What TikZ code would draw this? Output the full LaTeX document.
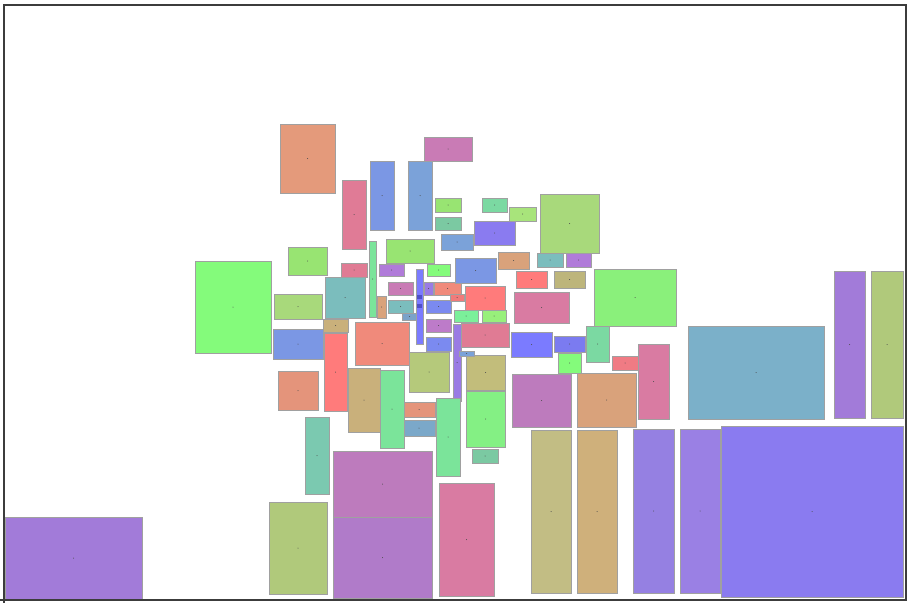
\documentclass[tikz,border=0pt]{standalone}
\usetikzlibrary{calc}
\definecolor{rimgray}{RGB}{160,160,160}
\definecolor{framegray}{RGB}{60,60,60}
\definecolor{darkbar}{RGB}{80,80,200}
\tikzset{
  rbox/.style={draw=rimgray, line width=0.95pt},
  frameline/.style={draw=framegray, line width=1.3pt},
  cdot/.style={fill=black!70}
}
\newcommand{\rb}[5]{%
  \definecolor{rbc}{HTML}{#5}%
  \draw[rbox,fill=rbc] (#1,#2) rectangle (#3,#4);
  \fill[cdot] ({(#1+#3)/2},{(#2+#4)/2}) circle (0.5);
}
\begin{document}
\begin{tikzpicture}[x=1pt,y=-1pt]
\useasboundingbox (0,0) rectangle (912,605);
\fill[white] (0,0) rectangle (912,605);
\rb{280}{124}{335}{193}{E49A7B}
\rb{342}{180}{366}{249}{E07B96}
\rb{370}{161}{394}{230}{7B97E4}
\rb{408}{161}{432}{230}{7BA2D9}
\rb{424}{137}{472}{161}{C97BB5}
\rb{288}{247}{327}{275}{98E472}
\rb{195}{261}{271}{353}{84FB7B}
\rb{341}{263}{367}{277}{E07B94}
\rb{369}{241}{376}{317}{7BE49A}
\rb{386}{239}{434}{263}{98E472}
\rb{379}{264}{404}{276}{B07BD9}
\rb{325}{277}{365}{318}{7BBDBD}
\rb{274}{294}{322}{319}{A8D97B}
\rb{388}{282}{413}{295}{C97BB5}
\rb{377}{296}{386}{318}{D9A27B}
\rb{388}{300}{413}{313}{7BBDBD}
\rb{402}{313}{417}{320}{7BA2C9}
\rb{355}{322}{409}{365}{F08A7B}
\rb{416}{269}{423}{344}{7B7BFF}
\fill[darkbar] (417,295) rectangle (422,299);
\fill[darkbar] (417,304) rectangle (422,308);
\rb{424}{282}{433}{295}{9A7BE4}
\rb{434}{282}{461}{295}{F08A7B}
\rb{426}{300}{451}{313}{7B8AF0}
\rb{427}{264}{450}{276}{84FB7B}
\rb{441}{234}{473}{250}{7BA2D9}
\rb{450}{294}{464}{301}{F07B7B}
\rb{454}{310}{478}{322}{7BF09A}
\rb{482}{310}{506}{322}{98F07B}
\rb{465}{286}{505}{310}{FF7B7B}
\rb{455}{258}{496}{283}{7B97E4}
\rb{474}{221}{515}{245}{8A7BF0}
\rb{498}{252}{529}{269}{D9A27B}
\rb{516}{271}{547}{288}{FF7B7B}
\rb{514}{292}{569}{323}{D97BA2}
\rb{435}{198}{461}{212}{98E472}
\rb{435}{217}{461}{230}{7BC9A2}
\rb{482}{198}{507}{212}{7BD9A2}
\rb{509}{207}{536}{221}{A8E47B}
\rb{540}{194}{599}{253}{A8D97B}
\rb{537}{253}{563}{267}{7BBDBD}
\rb{566}{253}{591}{267}{B07BD9}
\rb{554}{271}{585}{288}{BDB57B}
\rb{594}{269}{676}{326}{8AF07B}
\rb{426}{319}{451}{332}{BD7BC9}
\rb{426}{337}{451}{351}{7B8AF0}
\rb{453}{324}{461}{401}{9A7BE4}
\rb{461}{323}{509}{347}{E07B94}
\rb{511}{332}{552}{357}{7B7BFF}
\rb{554}{336}{585}{352}{7B7BF0}
\rb{558}{353}{581}{373}{84FB7B}
\rb{586}{326}{609}{362}{7BD9A2}
\rb{612}{356}{638}{370}{F07B84}
\rb{638}{344}{669}{419}{D97BA2}
\rb{409}{352}{449}{392}{B5C97B}
\rb{466}{355}{505}{390}{C2BD7B}
\rb{459}{351}{474}{356}{7BA2D9}
\rb{466}{391}{505}{447}{84F084}
\rb{472}{449}{498}{463}{7BC9A2}
\rb{512}{374}{571}{427}{BD7BBD}
\rb{577}{373}{636}{427}{D9A27B}
\rb{403}{402}{435}{417}{E4947B}
\rb{403}{420}{435}{436}{7BA8C9}
\rb{436}{398}{460}{476}{7BE49A}
\rb{531}{430}{571}{593}{C2BD84}
\rb{577}{430}{617}{593}{CFB07B}
\rb{633}{429}{674}{593}{9580E2}
\rb{680}{429}{720}{593}{9A80E4}
\rb{721}{426}{903}{597}{8A7BF0}
\rb{688}{326}{824}{419}{7BB0C9}
\rb{834}{271}{865}{418}{A27BD9}
\rb{871}{271}{903}{418}{B0C97B}
\rb{273}{329}{323}{359}{7B97E4}
\rb{323}{319}{348}{332}{C9B07B}
\rb{324}{333}{347}{411}{FF7B7B}
\rb{278}{371}{318}{410}{E4947B}
\rb{348}{368}{380}{432}{C9B07B}
\rb{380}{370}{404}{448}{7BE49A}
\rb{305}{417}{329}{494}{7BC9B0}
\rb{333}{451}{432}{517}{BD7BBD}
\rb{333}{517}{432}{598}{B07BC9}
\rb{269}{502}{327}{594}{B0C97B}
\rb{439}{483}{494}{596}{D97BA2}
\rb{5}{517}{142}{599}{A27BD9}
\draw[frameline] (4,5) rectangle (906,600);
\draw[frameline] (0,600) -- (4,600);
\draw[frameline] (4,600) -- (4,603);
\end{tikzpicture}
\end{document}
